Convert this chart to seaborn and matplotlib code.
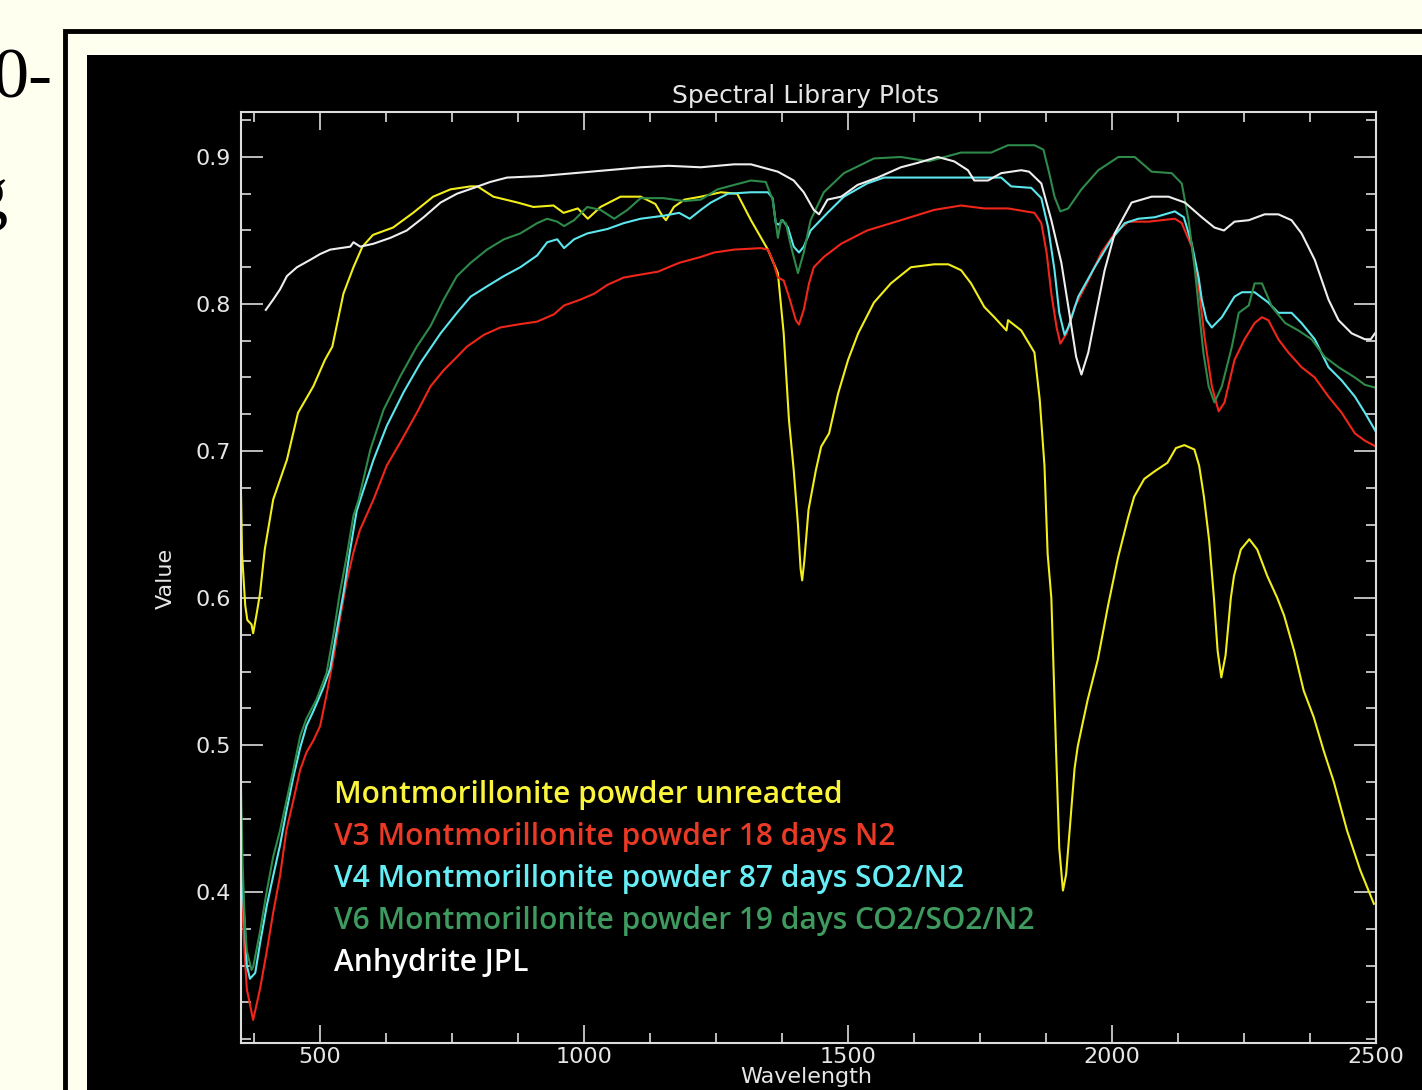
import numpy as np
import pandas as pd
import seaborn as sns
import matplotlib.pyplot as plt
from matplotlib.patches import Rectangle
from matplotlib.ticker import MultipleLocator

# Spectral library curves (wavelength nm, reflectance)
yellow_wl = [350, 352, 358, 362, 370, 373, 380, 386, 395, 411, 437, 458, 487, 509, 523, 544, 563, 580,
             600, 638, 676, 714, 747, 785, 798, 828, 874, 904, 942, 961, 988, 1007, 1031, 1069, 1107,
             1135, 1148, 1155, 1170, 1190, 1221, 1259, 1290, 1316, 1348, 1367, 1378, 1388, 1397, 1405,
             1410, 1413, 1417, 1425, 1439, 1449, 1464, 1481, 1500, 1519, 1549, 1581, 1619, 1663, 1690,
             1714, 1733, 1758, 1777, 1800, 1803, 1828, 1853, 1863, 1872, 1878, 1885, 1891, 1894, 1900,
             1907, 1913, 1923, 1929, 1935, 1945, 1954, 1973, 1992, 2011, 2030, 2042, 2061, 2080, 2105,
             2121, 2137, 2156, 2165, 2174, 2184, 2193, 2200, 2207, 2215, 2225, 2231, 2244, 2260, 2275,
             2294, 2313, 2326, 2345, 2363, 2382, 2401, 2420, 2445, 2470, 2496]
yellow_val = [0.670, 0.630, 0.595, 0.585, 0.582, 0.576, 0.590, 0.603, 0.633, 0.667, 0.694, 0.726, 0.744,
              0.762, 0.771, 0.807, 0.825, 0.839, 0.847, 0.852, 0.862, 0.873, 0.878, 0.880, 0.880, 0.873,
              0.869, 0.866, 0.867, 0.862, 0.865, 0.858, 0.866, 0.873, 0.873, 0.868, 0.860, 0.857, 0.866,
              0.871, 0.873, 0.876, 0.875, 0.857, 0.837, 0.821, 0.780, 0.721, 0.687, 0.650, 0.620, 0.612,
              0.625, 0.660, 0.687, 0.703, 0.712, 0.739, 0.762, 0.780, 0.801, 0.814, 0.825, 0.827, 0.827,
              0.823, 0.814, 0.798, 0.791, 0.782, 0.789, 0.782, 0.767, 0.735, 0.690, 0.630, 0.600, 0.531,
              0.496, 0.430, 0.401, 0.412, 0.457, 0.484, 0.499, 0.516, 0.531, 0.558, 0.594, 0.627, 0.654,
              0.669, 0.681, 0.686, 0.692, 0.702, 0.704, 0.701, 0.690, 0.669, 0.639, 0.600, 0.564, 0.546,
              0.561, 0.600, 0.615, 0.633, 0.640, 0.633, 0.615, 0.600, 0.588, 0.564, 0.537, 0.519, 0.496,
              0.475, 0.442, 0.415, 0.392]

red_wl = [350, 355, 361, 373, 386, 399, 411, 424, 436, 449, 462, 474, 487, 500, 512, 525, 537, 550, 563,
          575, 601, 626, 652, 683, 709, 734, 759, 778, 810, 841, 873, 911, 943, 962, 993, 1019, 1044, 1075,
          1107, 1140, 1180, 1221, 1246, 1284, 1335, 1348, 1357, 1367, 1378, 1388, 1401, 1407, 1416, 1426,
          1435, 1454, 1487, 1536, 1600, 1663, 1714, 1758, 1803, 1853, 1866, 1876, 1885, 1895, 1902, 1914,
          1929, 1955, 1980, 2005, 2031, 2069, 2119, 2132, 2151, 2164, 2175, 2189, 2202, 2213, 2232, 2251,
          2270, 2284, 2296, 2315, 2334, 2359, 2384, 2410, 2435, 2460, 2479, 2500]
red_val = [0.420, 0.370, 0.334, 0.313, 0.334, 0.360, 0.386, 0.411, 0.442, 0.462, 0.483, 0.495, 0.503,
           0.513, 0.534, 0.559, 0.585, 0.611, 0.631, 0.646, 0.667, 0.690, 0.706, 0.726, 0.744, 0.755, 0.764,
           0.771, 0.779, 0.784, 0.786, 0.788, 0.793, 0.799, 0.803, 0.807, 0.813, 0.818, 0.820, 0.822, 0.828,
           0.832, 0.835, 0.837, 0.838, 0.837, 0.830, 0.818, 0.816, 0.805, 0.789, 0.786, 0.796, 0.814, 0.825,
           0.832, 0.841, 0.850, 0.857, 0.864, 0.867, 0.865, 0.865, 0.862, 0.855, 0.835, 0.807, 0.784, 0.773,
           0.780, 0.798, 0.816, 0.835, 0.848, 0.856, 0.856, 0.858, 0.855, 0.839, 0.812, 0.778, 0.744, 0.727,
           0.733, 0.762, 0.776, 0.787, 0.791, 0.789, 0.776, 0.767, 0.757, 0.750, 0.737, 0.726, 0.712, 0.707,
           0.703]

cyan_wl = [350, 355, 358, 361, 367, 377, 386, 399, 411, 424, 436, 449, 462, 474, 487, 506, 519, 531, 544,
           556, 569, 576, 601, 626, 658, 690, 728, 759, 785, 816, 848, 879, 911, 930, 949, 962, 981, 1006,
           1044, 1075, 1107, 1150, 1180, 1200, 1221, 1240, 1272, 1316, 1348, 1357, 1363, 1369, 1376, 1386,
           1397, 1407, 1416, 1429, 1461, 1492, 1536, 1568, 1632, 1695, 1758, 1790, 1809, 1847, 1866, 1879,
           1891, 1900, 1910, 1917, 1936, 1967, 1999, 2024, 2050, 2081, 2119, 2136, 2151, 2164, 2170, 2179,
           2189, 2208, 2232, 2246, 2270, 2296, 2315, 2340, 2359, 2384, 2410, 2435, 2460, 2479, 2500]
cyan_val = [0.420, 0.390, 0.373, 0.350, 0.341, 0.345, 0.365, 0.391, 0.411, 0.432, 0.455, 0.478, 0.498,
            0.513, 0.523, 0.539, 0.552, 0.577, 0.603, 0.631, 0.659, 0.667, 0.694, 0.717, 0.740, 0.760, 0.780,
            0.794, 0.805, 0.812, 0.819, 0.825, 0.833, 0.842, 0.844, 0.838, 0.844, 0.848, 0.851, 0.855, 0.858,
            0.860, 0.862, 0.858, 0.864, 0.869, 0.875, 0.876, 0.876, 0.872, 0.855, 0.854, 0.857, 0.852, 0.839,
            0.835, 0.839, 0.850, 0.862, 0.873, 0.882, 0.886, 0.886, 0.886, 0.886, 0.886, 0.880, 0.879, 0.872,
            0.852, 0.823, 0.794, 0.779, 0.784, 0.805, 0.825, 0.844, 0.855, 0.858, 0.859, 0.863, 0.859, 0.841,
            0.818, 0.803, 0.789, 0.784, 0.791, 0.805, 0.808, 0.808, 0.801, 0.794, 0.794, 0.787, 0.776, 0.757,
            0.748, 0.737, 0.726, 0.713]

green_wl = [350, 353, 357, 361, 370, 373, 386, 399, 411, 424, 436, 449, 462, 474, 493, 512, 525, 537, 550,
            563, 573, 595, 620, 652, 683, 709, 734, 759, 785, 816, 848, 879, 911, 930, 949, 962, 981, 1006,
            1031, 1057, 1082, 1107, 1150, 1190, 1221, 1253, 1284, 1316, 1344, 1357, 1367, 1373, 1382, 1392,
            1405, 1416, 1429, 1454, 1492, 1549, 1600, 1652, 1714, 1771, 1803, 1853, 1870, 1881, 1891, 1902,
            1917, 1942, 1974, 2012, 2043, 2075, 2113, 2132, 2145, 2157, 2164, 2173, 2183, 2194, 2208, 2227,
            2240, 2259, 2270, 2284, 2303, 2328, 2353, 2378, 2403, 2429, 2460, 2479, 2500]
green_val = [0.470, 0.420, 0.380, 0.360, 0.347, 0.349, 0.373, 0.401, 0.424, 0.442, 0.462, 0.483, 0.506,
             0.518, 0.531, 0.549, 0.575, 0.603, 0.628, 0.656, 0.667, 0.701, 0.728, 0.751, 0.771, 0.785,
             0.803, 0.819, 0.828, 0.837, 0.844, 0.848, 0.855, 0.858, 0.856, 0.853, 0.857, 0.866, 0.864,
             0.858, 0.864, 0.872, 0.872, 0.870, 0.871, 0.878, 0.881, 0.884, 0.883, 0.871, 0.845, 0.857,
             0.855, 0.839, 0.821, 0.835, 0.857, 0.876, 0.889, 0.899, 0.900, 0.897, 0.903, 0.903, 0.908,
             0.908, 0.905, 0.889, 0.873, 0.863, 0.865, 0.878, 0.891, 0.900, 0.900, 0.890, 0.889, 0.882,
             0.857, 0.823, 0.798, 0.767, 0.744, 0.733, 0.744, 0.771, 0.794, 0.799, 0.814, 0.814, 0.798,
             0.787, 0.782, 0.776, 0.764, 0.757, 0.750, 0.745, 0.743]

white_wl = [397, 411, 424, 437, 456, 481, 500, 519, 538, 557, 563, 576, 601, 633, 664, 696, 728, 759, 791,
            822, 854, 917, 981, 1044, 1107, 1160, 1221, 1284, 1316, 1367, 1397, 1416, 1435, 1445, 1461,
            1487, 1518, 1556, 1600, 1632, 1670, 1701, 1727, 1739, 1765, 1790, 1828, 1843, 1866, 1885, 1904,
            1919, 1932, 1942, 1955, 1967, 1986, 2005, 2037, 2075, 2107, 2138, 2170, 2194, 2212, 2232, 2259,
            2289, 2315, 2340, 2359, 2384, 2410, 2429, 2454, 2479, 2490, 2500]
white_val = [0.796, 0.803, 0.810, 0.819, 0.825, 0.830, 0.834, 0.837, 0.838, 0.839, 0.842, 0.839, 0.841,
             0.845, 0.850, 0.859, 0.869, 0.875, 0.879, 0.883, 0.886, 0.887, 0.889, 0.891, 0.893, 0.894,
             0.893, 0.895, 0.895, 0.890, 0.884, 0.876, 0.864, 0.861, 0.871, 0.873, 0.881, 0.886, 0.893,
             0.896, 0.900, 0.897, 0.891, 0.884, 0.884, 0.889, 0.891, 0.890, 0.882, 0.857, 0.828, 0.794,
             0.764, 0.752, 0.767, 0.789, 0.823, 0.848, 0.869, 0.873, 0.873, 0.869, 0.859, 0.852, 0.850,
             0.856, 0.857, 0.861, 0.861, 0.857, 0.848, 0.830, 0.803, 0.789, 0.780, 0.776, 0.776, 0.781]

labels = ["Montmorillonite powder unreacted",
          "V3 Montmorillonite powder 18 days N2",
          "V4 Montmorillonite powder 87 days SO2/N2",
          "V6 Montmorillonite powder 19 days CO2/SO2/N2",
          "Anhydrite JPL"]
line_colors = ["#F2EE1C", "#F0261A", "#5CE6EE", "#2E8A4A", "#EEEEEE"]
text_colors = ["#FAF53C", "#EA3A26", "#66EEF6", "#3E9A5E", "#FFFFFF"]

series = [(yellow_wl, yellow_val), (red_wl, red_val), (cyan_wl, cyan_val),
          (green_wl, green_val), (white_wl, white_val)]
df = pd.concat([pd.DataFrame({"Wavelength": w, "Value": v, "Spectrum": lab})
                for (w, v), lab in zip(series, labels)], ignore_index=True)

W, H = 1422, 1090
fig = plt.figure(figsize=(W / 100, H / 100), dpi=100, facecolor="#FFFFF0")

def px(x, y):
    return x / W, 1 - y / H

# slide frame and black screenshot panel (behind the axes)
fig.patches.append(Rectangle(px(65, 1095), (W + 20 - 65) / W, (1095 - 31) / H,
                             transform=fig.transFigure, fill=False, ec="black", lw=3.5,
                             zorder=-2))
fig.patches.append(Rectangle(px(87, 1090), (W - 87) / W, (1090 - 55) / H,
                             transform=fig.transFigure, fc="black", ec="none", zorder=-1))

# cut-off slide text at the left edge
fig.text(*px(52, 80), "0-", fontsize=52, family="Liberation Serif", color="black",
         ha="right", va="center")
fig.text(*px(8, 200), "g", fontsize=52, family="Liberation Serif", color="black",
         ha="right", va="center")

ax = fig.add_axes([241 / W, 1 - 1043 / H, (1376 - 241) / W, (1043 - 112) / H])
ax.set_facecolor("black")

sns.lineplot(data=df, x="Wavelength", y="Value", hue="Spectrum", palette=line_colors,
             hue_order=labels, sort=False, estimator=None, legend=False, lw=1.5, ax=ax)

ax.set_xlim(350, 2500)
ax.set_ylim(0.2973, 0.9306)
ax.xaxis.set_major_locator(MultipleLocator(500))
ax.xaxis.set_minor_locator(MultipleLocator(125))
ax.yaxis.set_major_locator(MultipleLocator(0.1))
ax.yaxis.set_minor_locator(MultipleLocator(0.025))
ax.set_xticks([500, 1000, 1500, 2000, 2500])
ax.set_yticks([0.4, 0.5, 0.6, 0.7, 0.8, 0.9])
ax.set_xticklabels(["500", "1000", "1500", "2000", "2500"])
ax.set_yticklabels(["0.4", "0.5", "0.6", "0.7", "0.8", "0.9"])
ax.tick_params(which="both", direction="in", top=True, right=True, colors="#DDDDDD",
               labelcolor="#E6E6E6", labelsize=16, width=1.2)
ax.tick_params(which="major", length=13)
ax.tick_params(which="minor", length=7)
ax.tick_params(axis="y", which="major", length=16, pad=7)
ax.tick_params(axis="x", which="major", pad=3)
for s in ax.spines.values():
    s.set_color("#DDDDDD")
    s.set_linewidth(1.5)
ax.set_xlabel("")
ax.set_ylabel("")
ax.grid(False)

fig.text(*px(806, 96), "Spectral Library Plots", color="#E6E6E6", fontsize=18,
         ha="center", va="center")
fig.text(*px(166, 578), "Value", color="#E6E6E6", fontsize=16, rotation=90,
         ha="center", va="center")
fig.text(*px(806, 1077), "Wavelength", color="#E6E6E6", fontsize=16,
         ha="center", va="center")

for i, (lab, c) in enumerate(zip(labels, text_colors)):
    fig.text(*px(334, 795 + i * 42), lab, color=c, fontsize=21.5, family="Open Sans",
             fontweight="semibold", ha="left", va="center")

fig.savefig("out.png", dpi=100, facecolor=fig.get_facecolor())
